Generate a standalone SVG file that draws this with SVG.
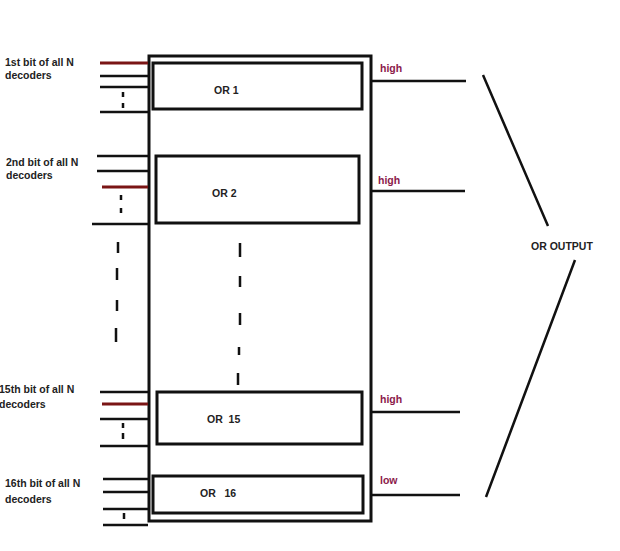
<svg xmlns="http://www.w3.org/2000/svg" width="620" height="551" viewBox="0 0 620 551">
<style>
text{font-family:"Liberation Sans",Arial,sans-serif;font-weight:bold;font-size:10.5px;fill:#222;white-space:pre}
.lbl{fill:#8b1a4a}
.box{fill:#fff;stroke:#111;stroke-width:3}
.ln{stroke:#111;stroke-width:2.5;fill:none}
.red{stroke:#7a1515;stroke-width:3;fill:none}
.dash{stroke:#111;stroke-width:2.5;fill:none;stroke-linecap:butt}
</style>
<rect width="620" height="551" fill="#fff"/>
<g id="outer"><rect class="box" x="149" y="56" width="222" height="465"/></g>
<g id="or1"><rect class="box" x="153" y="63" width="209" height="46"/><text x="214" y="94">OR 1</text></g>
<g id="or2"><rect class="box" x="156" y="156" width="203" height="67"/><text x="212" y="197">OR 2</text></g>
<g id="or15"><rect class="box" x="157" y="392" width="205" height="52"/><text x="207" y="423">OR  15</text></g>
<g id="or16"><rect class="box" x="153" y="476" width="210" height="37"/><text x="200" y="497">OR   16</text></g>
<g id="labels">
<text x="5" y="66">1st bit of all N</text><text x="5" y="79">decoders</text>
<text x="6" y="166">2nd bit of all N</text><text x="6" y="179">decoders</text>
<text x="-1" y="393">15th bit of all N</text><text x="-1" y="408">decoders</text>
<text x="5" y="487">16th bit of all N</text><text x="5" y="503">decoders</text>
<text x="531" y="250">OR OUTPUT</text>
<text class="lbl" x="380" y="72">high</text>
<text class="lbl" x="378" y="184">high</text>
<text class="lbl" x="380" y="403">high</text>
<text class="lbl" x="380" y="484">low</text>
</g>
<g id="connectors">
<path class="red" d="M100 63H148M102 187H148M102 404H148"/>
<path class="ln" d="M100 76H148M100 87H148M100 112H148M97 156H148M97 171H148M92 224H148M100 392H148M100 419H148M100 446H148M103 479H148M103 492H148M103 509H148M103 525H148"/>
<path class="ln" d="M371 81H466M371 191H465M371 412H460M371 495H460M483 75L548 226M575 260L486 497"/>
<path class="dash" d="M123 92V97M123 103V108M121 195V200M121 208V213M123 423V428M123 433V439M124 513V519"/>
<path class="dash" d="M118 242V253M117 268V280M117 300V311M116 328V342"/>
<path class="dash" d="M240 243V257M240 276V287M240 313V325M239 347V355M238 373V385"/>
</g>
</svg>
